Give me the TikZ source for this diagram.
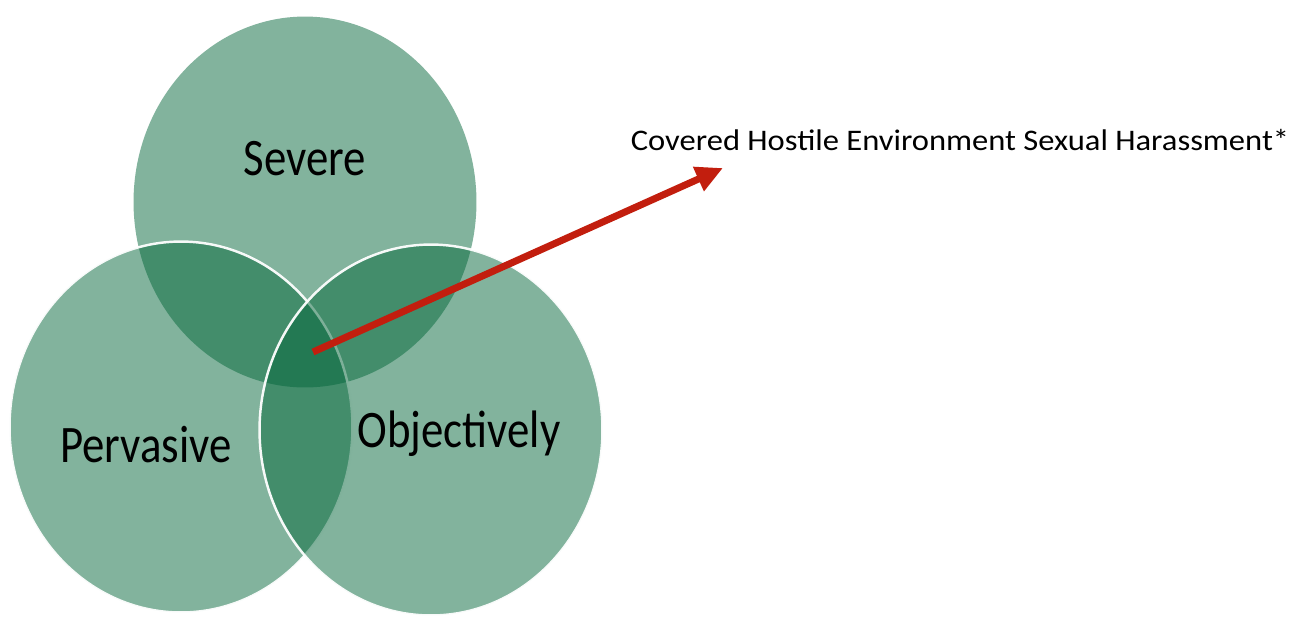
\documentclass[tikz,border=0pt]{standalone}
\usepackage{fontspec}
\setmainfont{Carlito}
\newfontfamily\vennfont[FakeStretch=0.85]{Carlito}
\newfontfamily\notefont[FakeStretch=1.09]{Carlito}
\usepackage{tikz}
\usetikzlibrary{arrows.meta, shapes.geometric}
\definecolor{venngreen}{HTML}{05673B}
\definecolor{arrowred}{HTML}{C21E0E}
\tikzset{>={Triangle[length=0.54cm, width=0.5cm]}}
\tikzset{
  venn/.style={ellipse, fill=venngreen, fill opacity=0.5, inner sep=0pt,
    minimum width=6.86cm, minimum height=7.42cm},
  vennrim/.style={venn, draw=white, line width=1.4pt, draw opacity=0.95},
  venntext/.style={font=\vennfont\fontsize{30}{33}\selectfont, text=black, inner sep=0pt}
}

\begin{document}
\begin{tikzpicture}[x=0.02cm, y=-0.02cm]
        \useasboundingbox (0, 0) rectangle (1301, 620);
        \node[venn] (severe) at (305, 202) {};
        \node[vennrim] (pervasive) at (181, 427) {};
        \node[vennrim] (objectively) at (431, 430) {};
        \node[venntext] (severetext) at (305, 159) {Severe};
        \node[venntext] (pervasivetext) at (146, 445) {Pervasive};
        \node[venntext] (objectivelytext) at (459, 434) {Objectively};
        \node[font=\notefont\fontsize{17}{20}\selectfont, inner sep=0pt] (covered) at (960, 140) {Covered Hostile Environment Sexual Harassment*};
        \coordinate (core) at (313, 352);
        \coordinate (tip) at (723, 168);
        \draw[->, arrowred, line width=0.14cm] (core) -- (tip);
    \end{tikzpicture}
\end{document}
